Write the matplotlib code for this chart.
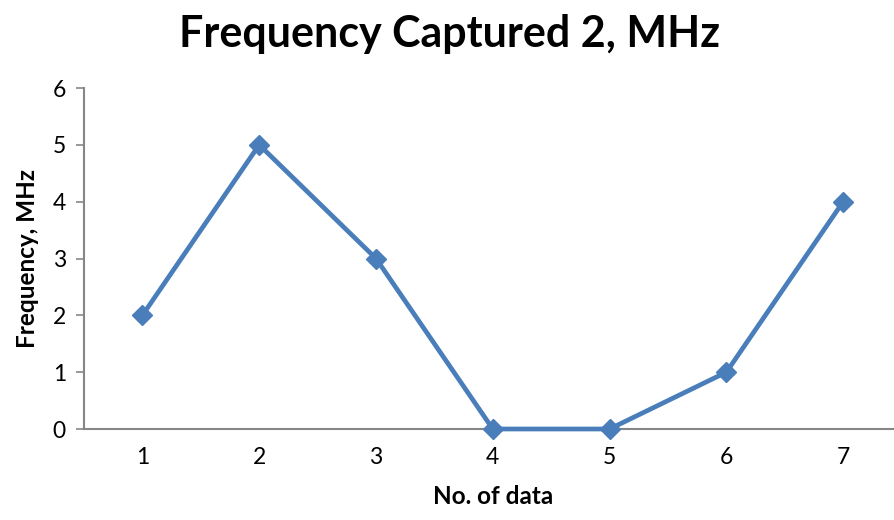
import matplotlib
matplotlib.use("Agg")
import matplotlib.pyplot as plt

categories = [1, 2, 3, 4, 5, 6, 7]
values = [2, 5, 3, 0, 0, 1, 4]
yticks = [0, 1, 2, 3, 4, 5, 6]

plt.rcParams['font.family'] = ['Lato', 'DejaVu Sans']

fig = plt.figure(figsize=(8.94, 5.20), dpi=100)
left = 84 / 894
right = (84 + 7 * 116.8) / 894
bottom = 1 - 429 / 520
top = 1 - 88 / 520
ax = fig.add_axes([left, bottom, right - left, top - bottom])

color = '#4A7EBB'
ax.plot(categories, values, color=color, lw=3.4, marker='D', markersize=10,
        markerfacecolor=color, markeredgecolor=color, clip_on=False, zorder=3)

ax.set_xlim(0.5, 7.5)
ax.set_ylim(0, 6)
ax.set_yticks(yticks)
ax.set_xticks(categories)
ax.set_xticklabels([str(c) for c in categories])

for s in ['top', 'right']:
    ax.spines[s].set_visible(False)
for s in ['left', 'bottom']:
    ax.spines[s].set_color('#868686')
    ax.spines[s].set_linewidth(1.5)

ax.tick_params(axis='y', length=6, width=1.2, color='#868686', labelsize=16.5, pad=7)
ax.tick_params(axis='x', length=0, labelsize=16.5, pad=13)

ax.set_xlabel('No. of data', fontsize=17.5, fontweight='bold', labelpad=12)
ax.set_ylabel('Frequency, MHz', fontsize=17.5, fontweight='bold', labelpad=10)
fig.text(0.503, 0.935, 'Frequency Captured 2, MHz', ha='center', va='center',
         fontsize=31, fontweight='bold')

fig.savefig('out.png', dpi=100)
